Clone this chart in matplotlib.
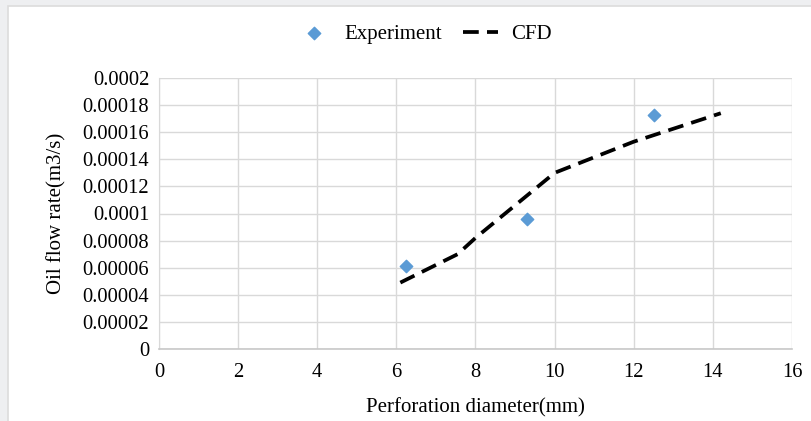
import numpy as np
import matplotlib.pyplot as plt
from matplotlib.patches import Rectangle

# data
exp_d = [6.25, 9.3, 12.5]
exp_q = [0.000061, 0.000096, 0.000173]
cfd_d = [6.1, 7.55, 8.0, 10.0, 12.0, 14.2]
cfd_q = [0.000049, 0.000070, 0.000082, 0.000130, 0.000153, 0.000174]

plt.rcParams['font.family'] = ['Liberation Serif', 'DejaVu Serif']

fig = plt.figure(figsize=(8.12, 4.21), dpi=100)
fig.patch.set_facecolor('#eeeff1')
# white panel with thin frame, as in the screenshot
fig.patches.append(Rectangle((8 / 812, -0.01), 1, 1.01 - 6 / 421, transform=fig.transFigure,
                             facecolor='white', edgecolor='#dcdcdc', linewidth=1.2, zorder=-10))

ax = fig.add_axes([159 / 812, 1 - 349 / 421, (792 - 159) / 812, (349 - 78) / 421])
ax.set_facecolor('white')

ax.plot(cfd_d, cfd_q, color='black', linestyle=(0, (4.2, 2.2)), linewidth=2.7, label='CFD', zorder=3)
ax.scatter(exp_d, exp_q, marker='D', s=40, color='#5b9bd5', label='Experiment', zorder=4)

ax.set_xlim(0, 16)
ax.set_ylim(0, 0.0002)
ax.set_xticks(np.arange(0, 17, 2))
yt = np.arange(0, 0.00021, 0.00002)
ax.set_yticks(yt)
ax.set_yticklabels(['0', '0.00002', '0.00004', '0.00006', '0.00008', '0.0001',
                    '0.00012', '0.00014', '0.00016', '0.00018', '0.0002'])
ax.tick_params(length=0, labelsize=14.8)
ax.tick_params(axis='x', pad=10)
ax.tick_params(axis='y', pad=7)
ax.grid(True, color='#d9d9d9', linewidth=1)
ax.set_axisbelow(True)
for s in ['top', 'right']:
    ax.spines[s].set_visible(False)
ax.spines['left'].set_color('#d9d9d9')
ax.spines['bottom'].set_color('#c8c8c8')
ax.spines['bottom'].set_linewidth(1.2)

ax.set_xlabel('Perforation diameter(mm)', fontsize=15, labelpad=12)
ax.set_ylabel('Oil flow rate(m3/s)', fontsize=15, labelpad=12)

h, l = ax.get_legend_handles_labels()
fig.legend(h[::-1], l[::-1], loc='center', bbox_to_anchor=(424 / 812, 1 - 34 / 421),
           ncol=2, frameon=False, fontsize=15, handlelength=1.7, columnspacing=1.0,
           handletextpad=0.6)

fig.savefig('out.png', dpi=100)
